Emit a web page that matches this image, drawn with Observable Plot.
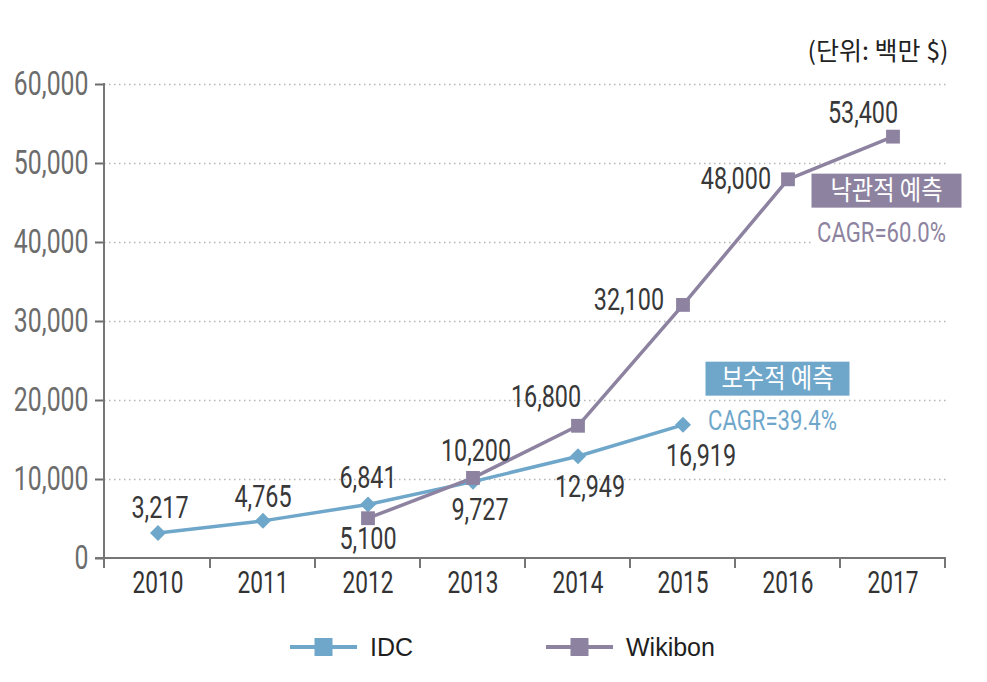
<!DOCTYPE html>
<html>
<head>
<meta charset="utf-8">
<script src="https://cdn.jsdelivr.net/npm/d3@7"></script>
<script src="https://cdn.jsdelivr.net/npm/@observablehq/plot@0.6"></script>
<style>
  body { margin: 0; background: #fff; }
  #wrap { position: relative; width: 987px; height: 682px; overflow: hidden; }
  #legend { position: absolute; left: 0; top: 627px; width: 987px; height: 40px;
            font-family: "Liberation Sans", Arial, sans-serif; font-size: 25px; color: #1e1e1e; }
  .item { position: absolute; top: 0; height: 40px; display: flex; align-items: center; }
  .item span { margin-left: 13px; }
</style>
</head>
<body>
<div id="wrap">
  <div id="chart"></div>
  <div id="legend"></div>
</div>
<script>
// ---- data ----
const years = ["2010", "2011", "2012", "2013", "2014", "2015", "2016", "2017"];
const idcYears = ["2010", "2011", "2012", "2013", "2014", "2015"];
const idcValues = [3217, 4765, 6841, 9727, 12949, 16919];
const wikiYears = ["2012", "2013", "2014", "2015", "2016", "2017"];
const wikiValues = [5100, 10200, 16800, 32100, 48000, 53400];
const yTicks = [0, 10000, 20000, 30000, 40000, 50000, 60000];
const seriesNames = ["IDC", "Wikibon"];
const unitText = "(단위: 백만 $)";
const forecastLabels = ["낙관적 예측", "보수적 예측"];
const cagrLabels = ["CAGR=60.0%", "CAGR=39.4%"];

// ---- styles ----
const BLUE = "#6fa7cb";
const PURPLE = "#8d83a0";
const AXIS = "#767676";
const NUM_FONT = 'Roboto, "DejaVu Sans", sans-serif';
const KR_FONT = '"Noto Sans CJK KR", "Noto Sans", sans-serif';
const SQUEEZE = 0.73;      // horizontal condensing of numeric text
const CAGR_SQUEEZE = 0.79; // condensing of the CAGR notes
const KR_SQUEEZE = 0.86;   // horizontal condensing of Korean box text

const idc = idcYears.map((year, i) => ({year, value: idcValues[i]}));
const wiki = wikiYears.map((year, i) => ({year, value: wikiValues[i]}));

// label placement (pixel offsets from the point)
const idcLabelPos = [
  {dx: 2, dy: -25, a: "middle"}, {dx: 0, dy: -24, a: "middle"}, {dx: 0, dy: -27, a: "middle"},
  {dx: 7, dy: 28, a: "middle"}, {dx: 12, dy: 31, a: "middle"}, {dx: 18, dy: 31, a: "middle"}
];
const wikiLabelPos = [
  {dx: 0, dy: 21, a: "middle"}, {dx: 3, dy: -27, a: "middle"}, {dx: -32, dy: -29, a: "middle"},
  {dx: -19, dy: -5, a: "end"}, {dx: -17, dy: -1, a: "end"}, {dx: -30, dy: -24, a: "middle"}
];
// annotation placement
const notePos = [
  {year: "2017", value: 46500, dx: -6, w: 150, color: PURPLE},
  {year: "2016", value: 22700, dx: -10, w: 144, color: BLUE}
];

const fmt = d3.format(",");

function labelMarks(rows, pos) {
  return rows.map((r, i) => Plot.text([r], {
    x: "year", y: "value", text: d => fmt(d.value),
    dx: pos[i].dx, dy: pos[i].dy, textAnchor: pos[i].a,
    fontSize: 32, fill: "#383838", fontFamily: NUM_FONT
  }));
}

// axis lines + band boundary ticks
function axisLines(index, scales, values, dims) {
  const x = scales.x;
  const g = d3.create("svg:g").attr("stroke", AXIS).attr("stroke-width", 2).attr("fill", "none");
  const x0 = dims.marginLeft, x1 = dims.width - dims.marginRight;
  const yb = dims.height - dims.marginBottom;
  g.append("line").attr("x1", x0).attr("x2", x0).attr("y1", dims.marginTop - 1).attr("y2", yb + 10);
  g.append("line").attr("x1", x0 - 9).attr("x2", x1).attr("y1", yb).attr("y2", yb);
  const dom = x.domain();
  const bounds = dom.map(d => x(d)).concat([x(dom[dom.length - 1]) + x.bandwidth()]);
  bounds.slice(1).forEach(bx => {
    g.append("line").attr("x1", bx).attr("x2", bx).attr("y1", yb).attr("y2", yb + 10);
  });
  return g.node();
}

// forecast boxes
function notes(index, scales, values, dims) {
  const x = scales.x, y = scales.y;
  const g = d3.create("svg:g");
  notePos.forEach((n, i) => {
    const cx = x(n.year) + x.bandwidth() / 2 + n.dx;
    const cy = y(n.value);
    g.append("rect").attr("x", cx - n.w / 2).attr("y", cy - 17).attr("width", n.w).attr("height", 34)
      .attr("fill", n.color);
    g.append("text").attr("x", cx).attr("y", cy).attr("dy", "0.36em").attr("text-anchor", "middle")
      .attr("class", "kr-box")
      .attr("fill", "#fff").attr("font-family", KR_FONT).attr("font-size", 27).text(forecastLabels[i]);
    g.append("text").attr("x", cx - 5).attr("y", cy + 41).attr("dy", "0.36em").attr("text-anchor", "middle")
      .attr("class", "cagr")
      .attr("fill", n.color).attr("font-family", NUM_FONT).attr("font-size", 28).text(cagrLabels[i]);
  });
  return g.node();
}

const chart = Plot.plot({
  width: 987,
  height: 612,
  marginTop: 84,
  marginBottom: 54,
  marginLeft: 104,
  marginRight: 41,
  style: {fontFamily: NUM_FONT, fontSize: "30px", background: "#fff"},
  x: {type: "band", domain: years, padding: 0, label: null},
  y: {domain: [0, 60000], label: null},
  marks: [
    Plot.ruleY(yTicks.filter(d => d > 0), {stroke: "#b5b5b5", strokeWidth: 1.5, strokeDasharray: "1.5,3.5"}),
    Plot.axisY(yTicks, {tickSize: 9, tickPadding: 7, tickFormat: fmt, fontSize: 34,
      color: "#6c6c6c", strokeWidth: 2, label: null}),
    Plot.axisX({tickSize: 0, tickPadding: 12, fontSize: 31, color: "#333", label: null}),
    axisLines,
    Plot.line(idc, {x: "year", y: "value", stroke: BLUE, strokeWidth: 3.5}),
    Plot.line(wiki, {x: "year", y: "value", stroke: PURPLE, strokeWidth: 3.5}),
    Plot.dot(idc, {x: "year", y: "value", symbol: "diamond2", r: 7.2, fill: BLUE, stroke: null}),
    Plot.dot(wiki, {x: "year", y: "value", symbol: "square", r: 7.8, fill: PURPLE, stroke: null}),
    ...labelMarks(idc, idcLabelPos),
    ...labelMarks(wiki, wikiLabelPos),
    notes,
    Plot.text([unitText], {frameAnchor: "top-right", dx: 2, dy: -42, textAnchor: "end",
      fontFamily: KR_FONT, fontSize: 25, fill: "#222"})
  ]
});
document.getElementById("chart").appendChild(chart);

// condense text horizontally (the reference uses a condensed typeface)
d3.select(chart).selectAll("text").each(function() {
  const t = this.textContent;
  if (!t) return;
  const korean = /[\uac00-\ud7a3]/.test(t);
  if (korean && !this.classList.contains("kr-box")) return;
  const len = this.getComputedTextLength();
  if (!(len > 0)) return;
  const k = korean ? KR_SQUEEZE : this.classList.contains("cagr") ? CAGR_SQUEEZE : SQUEEZE;
  this.setAttribute("textLength", len * k);
  this.setAttribute("lengthAdjust", "spacingAndGlyphs");
});

// white backing behind the CAGR notes (they mask the grid)
d3.select(chart).selectAll("text.cagr").each(function() {
  const b = this.getBBox();
  d3.select(this.parentNode).insert("rect", () => this)
    .attr("x", b.x - 3).attr("y", b.y + 3).attr("width", b.width + 6).attr("height", b.height - 5)
    .attr("fill", "#fff");
});

// legend
const legend = d3.select("#legend");
const legendColors = [BLUE, PURPLE];
const legendLeft = [290, 546];
seriesNames.forEach((name, i) => {
  const item = legend.append("div").attr("class", "item").style("left", legendLeft[i] + "px");
  const s = item.append("svg").attr("width", 67).attr("height", 20);
  s.append("line").attr("x1", 0).attr("x2", 67).attr("y1", 10).attr("y2", 10)
    .attr("stroke", legendColors[i]).attr("stroke-width", 4);
  s.append("rect").attr("x", 24.5).attr("y", 1).attr("width", 18).attr("height", 18).attr("fill", legendColors[i]);
  item.append("span").text(name);
});
</script>
</body>
</html>
